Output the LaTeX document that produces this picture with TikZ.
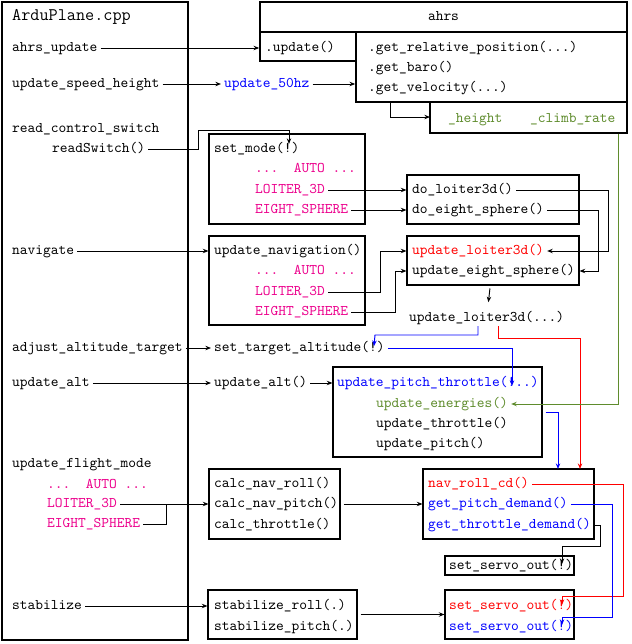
\documentclass[tikz,border=0pt]{standalone}
\usepackage{fontspec}
\usetikzlibrary{arrows.meta, positioning, fit, calc}
\definecolor{modepink}{RGB}{236,0,140}
\definecolor{ahrsgreen}{RGB}{95,140,45}

\begin{document}
\begin{tikzpicture}[x=0.678pt, y=-0.678pt,
    every node/.style={font=\ttfamily},
    txt/.style={anchor=west, inner sep=2pt, text height=7pt, text depth=2pt},
    box/.style={draw, line width=0.75pt, inner sep=0pt},
    ahrsbox/.style={draw, line width=1.1pt, inner sep=0pt},
    wire/.style={line width=0.65pt},
    conn/.style={wire, -{Stealth[length=3.8pt,width=3pt]}},
    redconn/.style={conn, red},
    blueconn/.style={conn, blue},
    greenconn/.style={conn, ahrsgreen}]
    \useasboundingbox (0,0) rectangle (631,644);

    % ArduPlane.cpp column
    \node[box, fit={(2,2) (188,640)}] (mainbox) {};
    \node[txt, font=\ttfamily\large] (title) at (9,17) {ArduPlane.cpp};
    \node[txt] (ahrsupdate) at (9,48) {ahrs\_update};
    \node[txt] (speedheight) at (9,84) {update\_speed\_height};
    \node[txt] (readctrl) at (9,129) {read\_control\_switch};
    \node[txt] (readswitch) at (49,149) {readSwitch()};
    \node[txt] (navigate) at (9,251) {navigate};
    \node[txt] (adjalt) at (9,348) {adjust\_altitude\_target};
    \node[txt] (updalt) at (9,383) {update\_alt};
    \node[txt] (flightmode) at (9,464) {update\_flight\_mode};
    \node[txt, text=modepink] (fmauto) at (44,485) {...\ \ AUTO\ ...};
    \node[txt, text=modepink] (fmloiter) at (44,504) {LOITER\_3D};
    \node[txt, text=modepink] (fmeight) at (44,524) {EIGHT\_SPHERE};
    \node[txt] (stabilize) at (9,606) {stabilize};

    % ahrs
    \node[ahrsbox, fit={(260,2) (627,32)}] (ahrs) {};
    \node[txt, anchor=center] (ahrsname) at (ahrs.center) {ahrs};
    \node[ahrsbox, fit={(260,32) (356,61)}] (ahrsupdbox) {};
    \node[txt] (ahrsupdfn) at (262,48) {.update()};
    \node[ahrsbox, fit={(356,32) (627,102)}] (getbox) {};
    \node[txt] (getpos) at (365,48) {.get\_relative\_position(...)};
    \node[txt] (getbaro) at (365,68) {.get\_baro()};
    \node[txt] (getvel) at (365,88) {.get\_velocity(...)};
    \node[box, fit={(430,102) (627,133)}] (greenbox) {};
    \node[txt, text=ahrsgreen] (height) at (445,119) {\_height};
    \node[txt, text=ahrsgreen] (climb) at (527,119) {\_climb\_rate};
    \node[txt, text=blue] (upd50) at (221,84) {update\_50hz};

    % modes
    \node[box, fit={(209,134) (365,224)}] (setmodebox) {};
    \node[txt] (setmode) at (211,149) {set\_mode(!)};
    \node[txt, text=modepink] (smauto) at (252,169) {...\ \ AUTO\ ...};
    \node[txt, text=modepink] (smloiter) at (252,190) {LOITER\_3D};
    \node[txt, text=modepink] (smeight) at (252,210) {EIGHT\_SPHERE};
    \node[box, fit={(407,175) (579,224)}] (dobox) {};
    \node[txt] (doloiter) at (409,190) {do\_loiter3d()};
    \node[txt] (doeight) at (409,210) {do\_eight\_sphere()};

    \node[box, fit={(209,236) (365,325)}] (navbox) {};
    \node[txt] (updnav) at (211,251) {update\_navigation()};
    \node[txt, text=modepink] (nvauto) at (252,271) {...\ \ AUTO\ ...};
    \node[txt, text=modepink] (nvloiter) at (252,292) {LOITER\_3D};
    \node[txt, text=modepink] (nveight) at (252,312) {EIGHT\_SPHERE};
    \node[box, fit={(407,236) (579,285)}] (updbox) {};
    \node[txt, text=red] (updloiter) at (409,251) {update\_loiter3d()};
    \node[txt] (updeight) at (409,271) {update\_eight\_sphere()};
    \node[txt] (loitercall) at (406,318) {update\_loiter3d(...)};

    % altitude and TECS
    \node[txt] (settarget) at (211,348) {set\_target\_altitude(!)};
    \node[txt] (updaltfn) at (211,383) {update\_alt()};
    \node[box, fit={(333,367) (542,457)}] (pitchbox) {};
    \node[txt, text=blue] (pitchthr) at (334,383) {update\_pitch\_throttle(!..)};
    \node[txt, text=ahrsgreen] (energies) at (373,404) {update\_energies()};
    \node[txt] (updthr) at (373,424) {update\_throttle()};
    \node[txt] (updpitch) at (373,444) {update\_pitch()};

    % nav and servos
    \node[box, fit={(209,469) (340,539)}] (calcbox) {};
    \node[txt] (calcroll) at (211,484) {calc\_nav\_roll()};
    \node[txt] (calcpitch) at (211,504) {calc\_nav\_pitch()};
    \node[txt] (calcthr) at (211,525) {calc\_throttle()};
    \node[box, fit={(423,469) (594,539)}] (navrollbox) {};
    \node[txt, text=red] (navroll) at (425,484) {nav\_roll\_cd()};
    \node[txt, text=blue] (getpitch) at (425,504) {get\_pitch\_demand()};
    \node[txt, text=blue] (getthr) at (425,525) {get\_throttle\_demand()};
    \node[box, fit={(445,556) (574,575)}] (servoonebox) {};
    \node[txt] (servoone) at (446,566) {set\_servo\_out(!)};
    \node[box, fit={(208,590) (357,639)}] (stabbox) {};
    \node[txt] (stabroll) at (211,606) {stabilize\_roll(.)};
    \node[txt] (stabpitch) at (211,627) {stabilize\_pitch(.)};
    \node[box, fit={(445,590) (574,639)}] (servobox) {};
    \node[txt, text=red] (servored) at (446,606) {set\_servo\_out(!)};
    \node[txt, text=blue] (servoblue) at (446,627) {set\_servo\_out(!)};

    % free ends
    \coordinate (smbang) at (289,144);
    \coordinate (stbang) at (374,346);
    \coordinate (ptbang) at (512,386);
    \coordinate (lcblue) at (478,326);
    \coordinate (lcred) at (498,326);
    \coordinate (redin) at (580,469);
    \coordinate (bluein) at (558,469);
    \coordinate (s1bang) at (562,564);
    \coordinate (s2red) at (562,605);
    \coordinate (s2blue) at (562,625);

    \draw[conn] (ahrsupdate) -- (ahrsupdate -| ahrsupdbox.west);
    \draw[conn] (speedheight) -- (upd50);
    \draw[conn] (upd50) -- (upd50 -| getbox.west);
    \draw[conn] (getbox.south -| 390,0) |- (430,117);
    \draw[conn] (readswitch) -| (198,130) -| (smbang);
    \draw[conn] (smloiter) -- (smloiter -| dobox.west);
    \draw[conn] (smeight) -- (smeight -| dobox.west);
    \draw[conn] (navigate) -- (navigate -| navbox.west);
    \draw[conn] (nvloiter) -| (380,251) -- (updloiter -| updbox.west);
    \draw[conn] (nveight) -| (395,271) -- (updeight -| updbox.west);
    \draw[conn] (doloiter) -| (608,251) -- (updloiter);
    \draw[conn] (doeight) -| (598,271) -- (updeight -| updbox.east);
    \draw[conn, shorten <=2pt, shorten >=4pt] (updbox) -- (loitercall);
    \draw[blueconn] (lcblue) |- (375,335) -- (stbang);
    \draw[blueconn] (settarget) -| (ptbang);
    \draw[redconn] (lcred) |- (580,338) -- (redin);
    \draw[conn] (adjalt) -- (settarget);
    \draw[conn] (updalt) -- (updaltfn);
    \draw[conn] (updaltfn) -- (updaltfn -| pitchbox.west);
    \draw[greenconn] (climb.east |- greenbox.south) |- (energies);
    \draw[blueconn, shorten <=2pt] (pitchbox.east) -| (bluein);
    \draw[conn] (fmloiter) -- (fmloiter -| calcbox.west);
    \draw[wire] (fmeight) -| (166,504);
    \draw[conn, shorten <=2pt] (calcbox) -- (navrollbox);
    \draw[conn] (getthr) -| (600,546) -| (s1bang);
    \draw[redconn] (navroll) -| (623,596) -| (s2red);
    \draw[blueconn] (getpitch) -| (612,617) -| (s2blue);
    \draw[conn] (stabilize) -- (stabilize -| stabbox.west);
    \draw[conn, shorten <=2pt] (stabbox) -- (servobox);
\end{tikzpicture}
\end{document}
